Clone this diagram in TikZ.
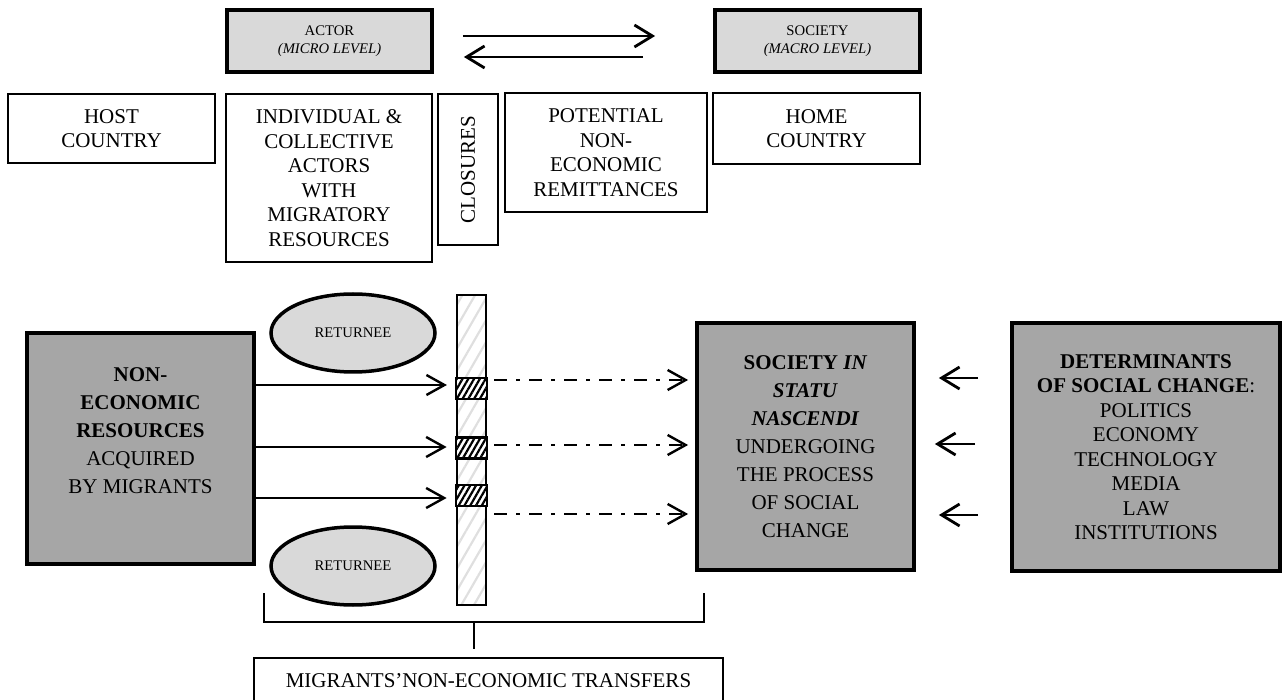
\documentclass[tikz,border=0pt]{standalone}
\usepackage{fontspec}
\setmainfont{Liberation Serif}
\usetikzlibrary{arrows.meta,calc,patterns.meta,shapes.geometric}
\definecolor{lightbox}{HTML}{D9D9D9}
\definecolor{darkbox}{HTML}{A6A6A6}

\begin{document}
\begin{tikzpicture}[x=1pt,y=-1pt,
    big/.style={font=\fontsize{21}{24.5}\selectfont, align=center},
    small/.style={font=\fontsize{14.7}{18}\selectfont, align=center},
    plain/.style={draw, line width=1.5pt, inner sep=0pt, big},
    level/.style={draw, line width=3.8pt, fill=lightbox, inner sep=0pt, small},
    heavy/.style={draw, line width=3.8pt, fill=darkbox, inner sep=0pt},
    returnee/.style={ellipse, draw, line width=3.5pt, fill=lightbox, inner sep=0pt,
        minimum width=164pt, minimum height=78pt, small},
    hatchbox/.style={draw, line width=2.8pt, inner sep=0pt, minimum width=31pt, minimum height=21pt,
        preaction={fill=white}, pattern={Lines[angle=60,distance=5pt,line width=2.2pt]}, pattern color=black},
    tip/.style={-{Straight Barb[length=18pt,width=22pt,line width=2.8pt]}, line width=2.8pt},
    flow/.style={-{Straight Barb[length=18pt,width=20pt,line width=2.4pt]}, line width=2.4pt},
    dashflow/.style={flow, dash pattern=on 13pt off 9pt on 4pt off 9pt},
    brace/.style={line width=2.8pt}]
  \useasboundingbox (0,0) rectangle (1283,700);

  % micro / macro level
  \node[level, minimum width=205pt, minimum height=62pt] (actor) at (329.5,41) {ACTOR\\\textit{(MICRO LEVEL)}};
  \node[level, minimum width=205pt, minimum height=62pt] (macro) at (817.5,41) {SOCIETY\\\textit{(MACRO LEVEL)}};
  \draw[tip] ($(actor.east)+(29,-5)$) -- ($(macro.west)+(-58,-5)$);
  \draw[tip] ($(macro.west)+(-70,16)$) -- ($(actor.east)+(30,16)$);

  \node[plain, minimum width=207pt, minimum height=69pt] (host) at (111.5,128.5) {HOST\\COUNTRY};
  \node[plain, minimum width=206pt, minimum height=168pt] (actors) at (329,178) {INDIVIDUAL \&\\COLLECTIVE\\ACTORS\\WITH\\MIGRATORY\\RESOURCES};
  \node[plain, rotate=90, minimum width=151pt, minimum height=60pt] (closures) at (468,169.5) {CLOSURES};
  \node[plain, minimum width=202pt, minimum height=119pt] (remit) at (606,152.5) {POTENTIAL\\NON-\\ECONOMIC\\REMITTANCES};
  \node[plain, minimum width=207pt, minimum height=71pt] (home) at (816.5,128.5) {HOME\\COUNTRY};

  % transfers
  \node[heavy, minimum width=227pt, minimum height=231pt] (res) at (140.5,448.5) {};
  \node[big, font=\fontsize{21}{28}\selectfont] (restext) at (140.5,431)
      {\textbf{NON-}\\\textbf{ECONOMIC}\\\textbf{RESOURCES}\\ACQUIRED\\BY MIGRANTS};
  \node[returnee] (ret1) at (353,333) {RETURNEE};
  \node[returnee] (ret2) at (353,566) {RETURNEE};

  \node[draw, line width=2.8pt, inner sep=0pt, minimum width=29pt, minimum height=310pt,
      pattern={Lines[angle=60,distance=11pt,line width=2.2pt]}, pattern color=gray!25] (bar) at (471.5,450) {};
  \node[hatchbox] (sq1) at (471.5,388.5) {};
  \node[hatchbox] (sq2) at (471.5,448) {};
  \node[hatchbox] (sq3) at (471.5,495.5) {};

  \node[heavy, big, font=\fontsize{21}{28}\selectfont, minimum width=217pt, minimum height=247pt] (soc) at (805.5,446.5)
      {\textbf{SOCIETY \textit{IN}}\\\textbf{\textit{STATU}}\\\textbf{\textit{NASCENDI}}\\UNDERGOING\\THE PROCESS\\OF SOCIAL\\CHANGE};
  \node[heavy, big, minimum width=268pt, minimum height=248pt] (det) at (1146,447)
      {\textbf{DETERMINANTS}\\\textbf{OF SOCIAL CHANGE}:\\POLITICS\\ECONOMY\\TECHNOLOGY\\MEDIA\\LAW\\INSTITUTIONS};

  \foreach \s/\yy in {sq1/385, sq2/447, sq3/498}
    \draw[flow] (res.east |- 0,\yy) -- ($(\s.west |- 0,\yy)+(-8,0)$);
  \foreach \yy in {380, 445, 514}
    \draw[dashflow] ($(bar.east |- 0,\yy)+(7,0)$) -- ($(soc.west |- 0,\yy)+(-7,0)$);
  \foreach \yy/\a/\b in {378/32/23, 444/35/19, 515/32/23}
    \draw[tip] ($(det.west |- 0,\yy)+(-\a,0)$) -- ($(soc.east |- 0,\yy)+(\b,0)$);

  \node[plain, minimum width=469pt, minimum height=46pt] (transfers) at (488.5,681) {MIGRANTS’NON-ECONOMIC TRANSFERS};
  \coordinate (brl) at (264,593);
  \coordinate (brr) at (704,593);
  \coordinate (brm) at (474,622);
  \draw[brace] (brl) |- (brm) -| (brr);
  \draw[brace] (brm) -- ($(brm |- transfers.north)+(0,-8)$);
\end{tikzpicture}
\end{document}
